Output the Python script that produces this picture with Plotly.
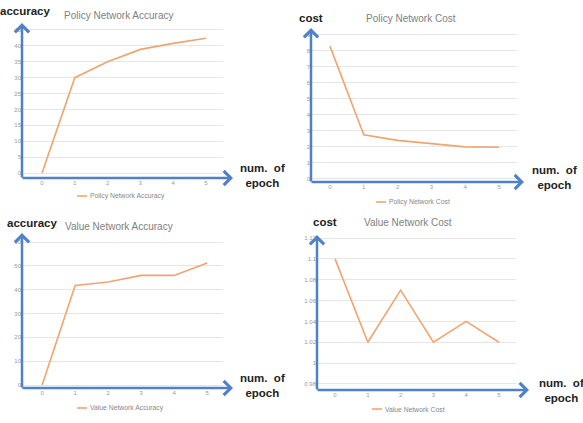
import plotly.graph_objects as go

W, H = 583, 423

epochs = [0, 1, 2, 3, 4, 5]
policy_acc = [0, 30, 35, 38.9, 40.8, 42.4]
policy_cost = [8.27, 2.75, 2.4, 2.19, 2.0, 1.97]
value_acc = [0, 41.8, 43.2, 46, 46, 51.2]
value_cost = [1.10, 1.02, 1.07, 1.02, 1.04, 1.02]

titles = ["Policy Network Accuracy", "Policy Network Cost",
          "Value Network Accuracy", "Value Network Cost"]
ylabels = ["accuracy", "cost", "accuracy", "cost"]
series = [policy_acc, policy_cost, value_acc, value_cost]

panels = [
    dict(x0=22, x1=223, xa=233, y0=178, y1=23, xr=[-0.61, 5.52], yr=[-1.57, 47.2], dtick=5,
         tx=118, ty=15, lx=-2, ly=11, nx=262, ny=175, legx=77, legy=196),
    dict(x0=311, x1=517, xa=524, y0=182, y1=28, xr=[-0.56, 5.53], yr=[-0.19, 9.4], dtick=1,
         tx=411, ty=19, lx=297, ly=18, nx=554, ny=178, legx=376, legy=202),
    dict(x0=22, x1=223, xa=233, y0=388, y1=233, xr=[-0.61, 5.48], yr=[-1.26, 63.8], dtick=10,
         tx=119, ty=226, lx=5, ly=223, nx=262, ny=385, legx=77, legy=408),
    dict(x0=317, x1=516, xa=529, y0=390, y1=235, xr=[-0.55, 5.52], yr=[0.9742, 1.1229], dtick=0.02,
         tx=408, ty=222, lx=311, ly=222, nx=561, ny=390, legx=372, legy=409),
]

def px(x):
    return x / W

def py(y):
    return 1 - y / H

fig = go.Figure()
ORANGE = "#F2A46F"
BLUE = "#4F81C9"
annotations = []
shapes = []
FONT = "Liberation Sans"

for i, p in enumerate(panels):
    k = "" if i == 0 else str(i + 1)
    fig.add_trace(go.Scatter(x=epochs, y=series[i], mode="lines",
                             line=dict(color=ORANGE, width=1.6),
                             xaxis="x" + k, yaxis="y" + k, showlegend=False))
    fig.layout["xaxis" + k] = dict(
        domain=[px(p["x0"]), px(p["x1"])], range=p["xr"], anchor="y" + k,
        tickmode="linear", tick0=0, dtick=1, showgrid=False, zeroline=False,
        showline=False, ticks="", tickfont=dict(size=6, color="#999999", family=FONT),
        fixedrange=True)
    fig.layout["yaxis" + k] = dict(
        domain=[py(p["y0"]), py(p["y1"])], range=p["yr"], anchor="x" + k,
        tickmode="linear", tick0=0, dtick=p["dtick"], showgrid=True,
        gridcolor="#E6E6E6", gridwidth=1, zeroline=False, showline=False,
        ticks="", tickfont=dict(size=6, color="#999999", family=FONT), fixedrange=True)
    # blue axis arrows
    annotations.append(dict(x=px(p["x0"]), y=py(p["y1"]), xref="paper", yref="paper",
                            ax=0, ay=p["y0"] - p["y1"] + 1, showarrow=True, arrowhead=4,
                            arrowsize=1.1, arrowwidth=2.5, arrowcolor=BLUE, text=""))
    annotations.append(dict(x=px(p["xa"]), y=py(p["y0"]), xref="paper", yref="paper",
                            ax=-(p["xa"] - p["x0"]) - 1, ay=0, showarrow=True, arrowhead=4,
                            arrowsize=1.1, arrowwidth=2.5, arrowcolor=BLUE, text=""))
    # chart title
    annotations.append(dict(x=px(p["tx"]), y=py(p["ty"]), xref="paper", yref="paper",
                            xanchor="center", yanchor="middle",
                            text=titles[i], showarrow=False,
                            font=dict(size=10, color="#808080", family=FONT)))
    # axis labels
    annotations.append(dict(x=px(p["lx"]), y=py(p["ly"]), xref="paper", yref="paper",
                            xanchor="left", yanchor="middle",
                            text="<b>" + ylabels[i] + "</b>", showarrow=False,
                            font=dict(size=11.5, color="#222222", family=FONT)))
    annotations.append(dict(x=px(p["nx"]), y=py(p["ny"]), xref="paper", yref="paper",
                            xanchor="center", yanchor="middle",
                            text="<b>num.  of<br>epoch</b>", showarrow=False,
                            font=dict(size=11.5, color="#222222", family=FONT)))
    # legend
    shapes.append(dict(type="line", xref="paper", yref="paper",
                       x0=px(p["legx"]), x1=px(p["legx"] + 10), y0=py(p["legy"]), y1=py(p["legy"]),
                       line=dict(color=ORANGE, width=1.6)))
    annotations.append(dict(x=px(p["legx"] + 11), y=py(p["legy"]), xref="paper", yref="paper",
                            xanchor="left", yanchor="middle", text=titles[i], showarrow=False,
                            font=dict(size=6.8, color="#888888", family=FONT)))

fig.update_layout(width=W, height=H, margin=dict(l=0, r=0, t=0, b=0),
                  paper_bgcolor="white", plot_bgcolor="white",
                  annotations=annotations, shapes=shapes, showlegend=False)

fig.write_html("out.html")
